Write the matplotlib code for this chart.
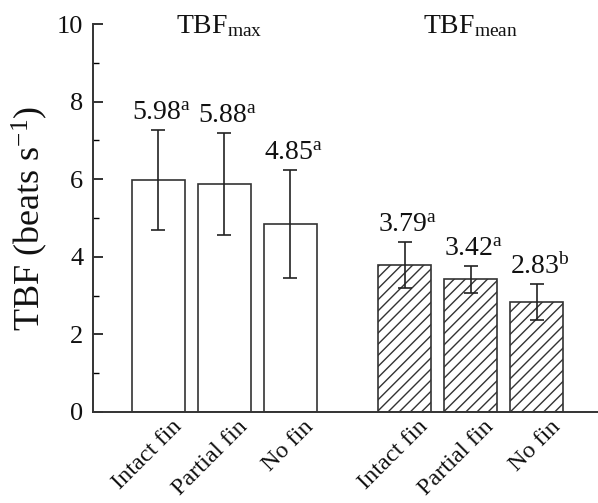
import matplotlib
matplotlib.use('Agg')
import matplotlib.pyplot as plt
import matplotlib.transforms as mtransforms
from matplotlib.ticker import MultipleLocator
import numpy as np

plt.rcParams['font.family'] = ['Liberation Serif']
plt.rcParams['mathtext.fontset'] = 'custom'
plt.rcParams['mathtext.rm'] = 'Liberation Serif'
plt.rcParams['mathtext.it'] = 'Liberation Serif:italic'
plt.rcParams['hatch.linewidth'] = 1.0

# data
groups = ['max', 'mean']
labels = ['Intact fin', 'Partial fin', 'No fin']
tbf_max = [5.98, 5.88, 4.85]
tbf_max_err = [1.29, 1.32, 1.39]
tbf_max_sig = ['a', 'a', 'a']
tbf_mean = [3.79, 3.42, 2.83]
tbf_mean_err = [0.60, 0.35, 0.46]
tbf_mean_sig = ['a', 'a', 'b']

edge = '#333333'
txt = '#111111'
fig = plt.figure(figsize=(5.98, 5.03), dpi=100)
ax = fig.add_axes([0.1555, 0.181, 0.8445, 0.771])

x1 = np.arange(3)
x2 = np.arange(3) + 3.73
width = 0.8

ax.bar(x1, tbf_max, width=width, color='white', edgecolor=edge, linewidth=1.2,
       yerr=tbf_max_err, error_kw=dict(ecolor='#222222', lw=1.2, capsize=5, capthick=1.2))
ax.bar(x2, tbf_mean, width=width, color='white', edgecolor=edge, linewidth=1.2, hatch='///',
       yerr=tbf_mean_err, error_kw=dict(ecolor='#222222', lw=1.2, capsize=5, capthick=1.2))

for xs, vals, errs, sig in [(x1, tbf_max, tbf_max_err, tbf_max_sig),
                            (x2, tbf_mean, tbf_mean_err, tbf_mean_sig)]:
    for xi, v, e, s in zip(xs, vals, errs, sig):
        ax.text(xi + 0.05, v + e + 0.1, '%.2f$^{\\mathrm{%s}}$' % (v, s), ha='center', va='bottom',
                fontsize=20, color=txt)

ax.text(x1.mean() - 0.08, 9.95, '$\\mathrm{TBF}_{\\mathrm{max}}$', ha='center', va='center', fontsize=20, color=txt)
ax.text(x2.mean(), 9.95, '$\\mathrm{TBF}_{\\mathrm{mean}}$', ha='center', va='center', fontsize=20, color=txt)

ax.set_xlim(-0.99, 6.66)
ax.set_ylim(0, 10)
ax.yaxis.set_major_locator(MultipleLocator(2))
ax.yaxis.set_minor_locator(MultipleLocator(1))
ax.tick_params(axis='y', which='major', direction='in', length=7, width=1.2, labelsize=19, pad=7, colors=txt)
ax.tick_params(axis='y', which='minor', direction='in', length=4, width=1.0)
ax.set_xticks(np.concatenate([x1, x2]))
ax.set_xticklabels(labels + labels, rotation=45, ha='right', rotation_mode='anchor', fontsize=17.5, color=txt)
ax.tick_params(axis='x', length=0, pad=3)
offset = mtransforms.ScaledTranslation(0.13, 0, fig.dpi_scale_trans)
for lab in ax.get_xticklabels():
    lab.set_transform(lab.get_transform() + offset)

for s in ['top', 'right']:
    ax.spines[s].set_visible(False)
for s in ['left', 'bottom']:
    ax.spines[s].set_linewidth(1.4)
    ax.spines[s].set_color('#333333')

ax.set_ylabel('TBF (beats s$^{\\mathrm{-1}}$)', fontsize=26, labelpad=5, color=txt)

plt.savefig('out.png', dpi=100)
plt.close()
